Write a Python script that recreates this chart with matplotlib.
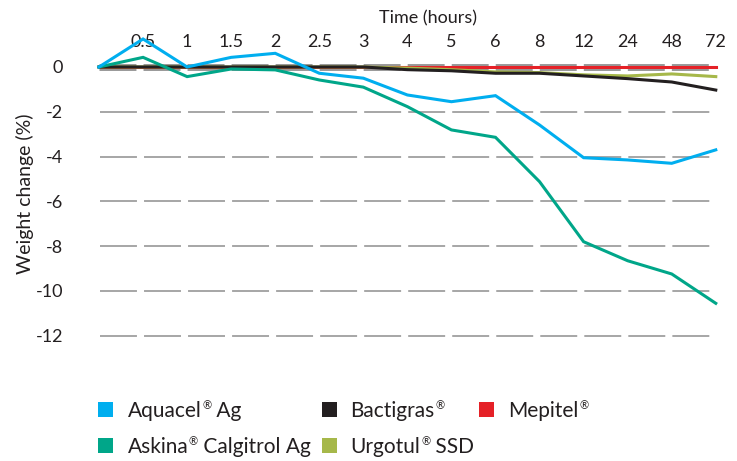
import matplotlib
matplotlib.use('Agg')
import matplotlib.pyplot as plt
from matplotlib.lines import Line2D

# time points (equally spaced categories)
hours = ['0', '0.5', '1', '1.5', '2', '2.5', '3', '4', '5', '6', '8', '12', '24', '48', '72']

# weight change (%)
aquacel = [0, 1.25, 0, 0.43, 0.61, -0.28, -0.5, -1.25, -1.55, -1.28, -2.59, -4.05, -4.15, -4.3, -3.7]
askina = [0, 0.43, -0.43, -0.09, -0.13, -0.58, -0.9, -1.77, -2.81, -3.14, -5.12, -7.8, -8.65, -9.24, -10.55]
bactigras = [0, 0, 0, 0, 0, 0, 0, -0.12, -0.17, -0.28, -0.28, -0.4, -0.52, -0.67, -1.03]
urgotul = [0, 0, 0, 0, 0, 0, 0, -0.05, -0.12, -0.22, -0.25, -0.35, -0.4, -0.31, -0.43]
mepitel = [0] * 15

yticks = [0, -2, -4, -6, -8, -10, -12]

TEXT = '#231f20'
plt.rcParams['font.family'] = ['Lato', 'DejaVu Sans']
plt.rcParams['axes.unicode_minus'] = False
plt.rcParams['lines.scale_dashes'] = False

W, H = 737, 461
fig = plt.figure(figsize=(W / 100, H / 100), dpi=100)
# axes placed in pixel terms: x=0 -> 99px, x=14 -> 716px ; y=0 -> 67px, y=-12 -> 336px
ax = fig.add_axes([99 / W, 1 - 347 / H, 630 / W, (347 - 51.3) / H])
ax.set_xlim(0, 14.3)
ax.set_ylim(-12.5, 0.7)

x = list(range(len(hours)))
dash = (0, (26.6, 5.1))

# gridlines
for y in yticks:
    if y == 0:
        ax.plot([0, 13.92], [y, y], color='#999999', lw=5, ls=dash, zorder=1, solid_capstyle='butt')
    else:
        ax.plot([0.02, 13.92], [y, y], color='#a6a6a6', lw=1.4, ls=dash, zorder=1)

series = [
    ('Mepitel', mepitel, '#e52127', 2),
    ('Urgotul', urgotul, '#a6b84a', 3),
    ('Bactigras', bactigras, '#231f20', 4),
    ('Askina', askina, '#00a689', 5),
    ('Aquacel', aquacel, '#00aeef', 6),
]
for name, vals, col, z in series:
    ax.plot(x, vals, color=col, lw=2.2, zorder=z, clip_on=False, solid_joinstyle='miter')

ax.xaxis.tick_top()
ax.set_xticks(x[1:])
ax.set_xticklabels(hours[1:], fontsize=13, color=TEXT)
ax.set_yticks(yticks)
ax.set_yticklabels([str(v) for v in yticks], fontsize=13, color=TEXT)
ax.tick_params(axis='x', length=0, pad=1)
ax.tick_params(axis='y', length=0, pad=26)
for s in ax.spines.values():
    s.set_visible(False)

fig.text(428 / W, 1 - 18 / H, 'Time (hours)', ha='center', va='center', fontsize=13, color=TEXT)
fig.text(25 / W, 1 - 194 / H, 'Weight change (%)', ha='center', va='center', rotation=90,
         fontsize=14, color=TEXT)

# legend laid out by hand: (name, suffix after the registered mark, colour, x px, y px)
legend_items = [
    ('Aquacel', ' Ag', '#00aeef', 105.5, 408.5),
    ('Bactigras', '', '#231f20', 328.5, 408.5),
    ('Mepitel', '', '#e52127', 486, 408.5),
    ('Askina', ' Calgitrol Ag', '#00a689', 105.5, 444.5),
    ('Urgotul', ' SSD', '#a6b84a', 328.5, 444.5),
]
for name, suffix, col, px, py in legend_items:
    fig.add_artist(Line2D([px / W], [1 - py / H], marker='s', markersize=10.8, color=col,
                          markeredgewidth=0, linestyle='none', transform=fig.transFigure))
    base = 1 - (py + 8) / H
    t1 = fig.text((px + 22) / W, base, name, ha='left', va='baseline', fontsize=15, color=TEXT)
    # small raised registered mark after the name
    t2 = ax.annotate('®', xy=(1, 1), xycoords=t1, xytext=(0.5, 0), textcoords='offset points',
                     ha='left', va='top', fontsize=8, color=TEXT, annotation_clip=False)
    if suffix:
        ax.annotate(suffix, xy=(1, base), xycoords=(t2, 'figure fraction'), ha='left',
                    va='baseline', fontsize=15, color=TEXT, annotation_clip=False)

fig.savefig('out.png', dpi=100)
